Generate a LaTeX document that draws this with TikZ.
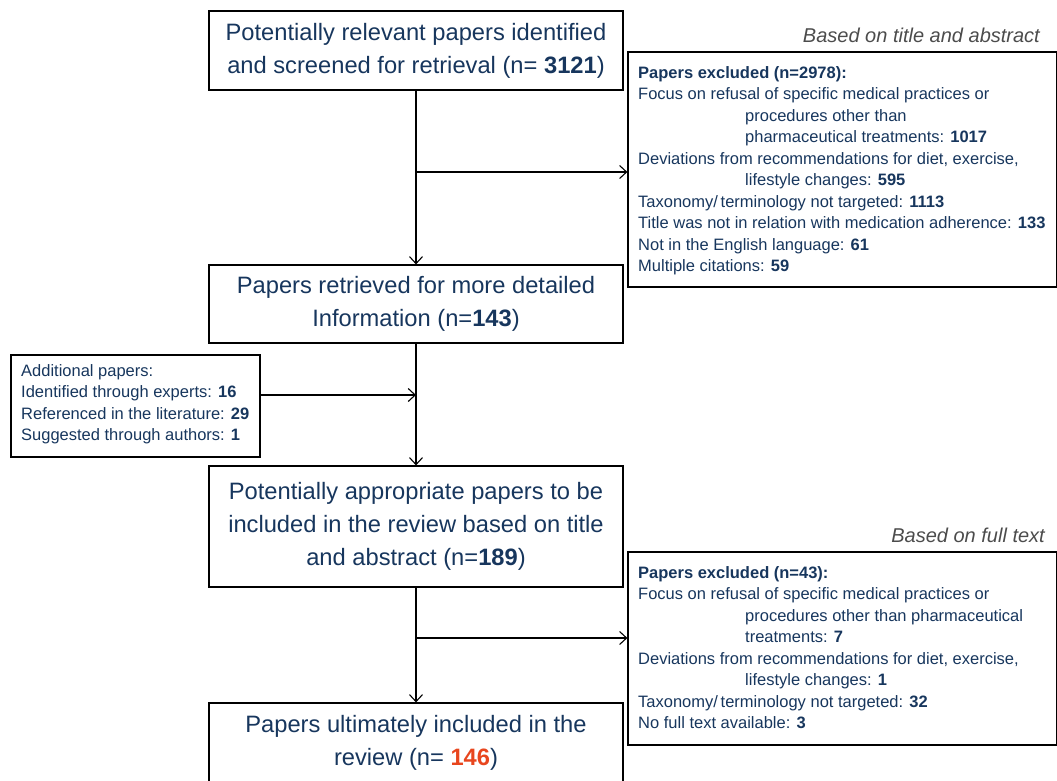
\documentclass[tikz,border=0pt]{standalone}
\usepackage{fontspec}
\setmainfont{Liberation Sans}
\usetikzlibrary{arrows.meta}
\definecolor{navy}{HTML}{17365D}
\definecolor{hot}{HTML}{E8461E}
\newcommand{\ind}{\hspace*{107pt}}
\begin{document}
\begin{tikzpicture}[x=1pt, y=-1pt,
        >={Straight Barb[length=7pt, width=13pt]},
        mainbox/.style={draw, line width=1.2pt, text=navy, align=center, minimum width=414pt,
            inner sep=0pt, font=\fontsize{23.7}{33}\selectfont},
        framebox/.style={draw, line width=1.2pt, inner sep=0pt},
        listtext/.style={text=navy, align=left, anchor=north west, inner sep=0pt,
            font=\fontsize{16.5}{21.5}\selectfont},
        note/.style={text=black!70, anchor=east, inner sep=0pt,
            font=\itshape\fontsize{20}{22}\selectfont},
        link/.style={->, line width=1.1pt}]
        \useasboundingbox (0, 0) rectangle (1057, 780);
        \node [mainbox, minimum height=79pt] (screened) at (416, 50.5)
            {Potentially relevant papers identified\\and screened for retrieval (n= \textbf{3121})};
        \node [mainbox, minimum height=78pt] (retrieved) at (416, 304)
            {Papers retrieved for more detailed\\Information (n=\textbf{143})};
        \node [mainbox, minimum height=121pt] (appropriate) at (416, 526.5)
            {Potentially appropriate papers to be\\included in the review based on title\\and abstract (n=\textbf{189})};
        \node [mainbox, minimum height=80pt] (included) at (416, 743)
            {Papers ultimately included in the\\review (n= \textcolor{hot}{\textbf{146}})};
        \node [framebox, minimum width=429pt, minimum height=235pt] (excl1) at (842.5, 169.5) {};
        \node [listtext] (excl1txt) at (638, 66) {\textbf{Papers excluded (n=2978):}\\
            Focus on refusal of specific medical practices or\\
            \ind procedures other than\\
            \ind pharmaceutical treatments: \textbf{1017}\\
            Deviations from recommendations for diet, exercise,\\
            \ind lifestyle changes: \textbf{595}\\
            Taxonomy/\,terminology not targeted: \textbf{1113}\\
            Title was not in relation with medication adherence: \textbf{133}\\
            Not in the English language: \textbf{61}\\
            Multiple citations: \textbf{59}};
        \node [framebox, minimum width=429pt, minimum height=193pt] (excl2) at (842.5, 648.5) {};
        \node [listtext] (excl2txt) at (638, 566) {\textbf{Papers excluded (n=43):}\\
            Focus on refusal of specific medical practices or\\
            \ind procedures other than pharmaceutical\\
            \ind treatments: \textbf{7}\\
            Deviations from recommendations for diet, exercise,\\
            \ind lifestyle changes: \textbf{1}\\
            Taxonomy/\,terminology not targeted: \textbf{32}\\
            No full text available: \textbf{3}};
        \node [framebox, minimum width=249pt, minimum height=102pt] (extra) at (135.5, 406) {};
        \node [listtext] (extratxt) at (21, 364) {Additional papers:\\
            Identified through experts: \textbf{16}\\
            Referenced in the literature: \textbf{29}\\
            Suggested through authors: \textbf{1}};
        \node [note] (note1) at (1040, 35) {Based on title and abstract};
        \node [note] (note2) at (1045, 535) {Based on full text};
        \coordinate (fork1) at (416, 172);
        \coordinate (join) at (416, 395);
        \coordinate (fork2) at (416, 638);
        \draw [link] (screened) -- (retrieved);
        \draw [link] (fork1) -- (fork1 -| excl1.west);
        \draw [link] (join -| extra.east) -- (join);
        \draw [link] (retrieved) -- (appropriate);
        \draw [link] (fork2) -- (fork2 -| excl2.west);
        \draw [link] (appropriate) -- (included);
    \end{tikzpicture}
\end{document}
